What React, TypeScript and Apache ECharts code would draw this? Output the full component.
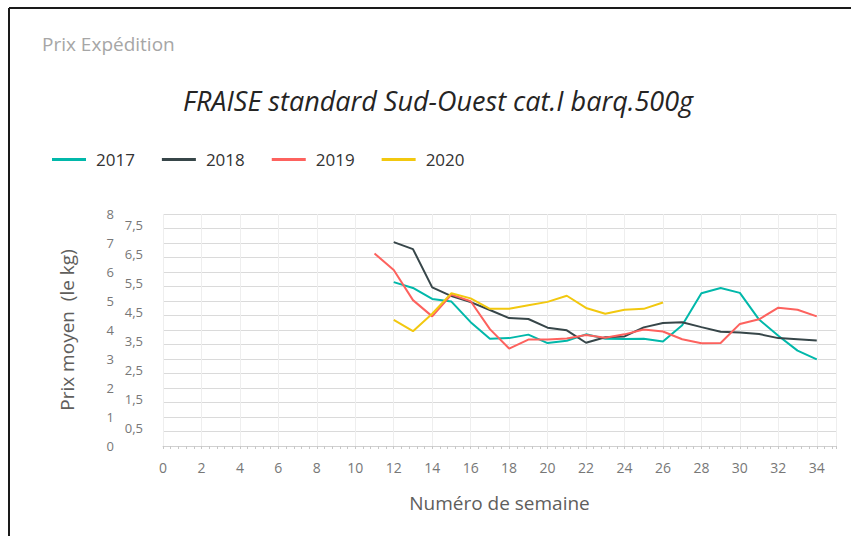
import React, { useEffect, useRef } from "react";
import * as echarts from "echarts";

const weeks = [11, 12, 13, 14, 15, 16, 17, 18, 19, 20, 21, 22, 23, 24, 25, 26, 27, 28, 29, 30, 31, 32, 33, 34];
const s2017 = [null, 5.65, 5.45, 5.07, 4.98, 4.27, 3.7, 3.72, 3.84, 3.55, 3.63, 3.85, 3.7, 3.69, 3.7, 3.6, 4.16, 5.27, 5.45, 5.28, 4.36, 3.8, 3.29, 2.99];
const s2018 = [null, 7.03, 6.79, 5.47, 5.17, 4.96, 4.69, 4.41, 4.38, 4.08, 3.99, 3.56, 3.75, 3.78, 4.09, 4.24, 4.27, 4.1, 3.94, 3.91, 3.86, 3.72, 3.68, 3.64];
const s2019 = [6.64, 6.07, 5.03, 4.47, 5.22, 4.99, 4.03, 3.36, 3.67, 3.67, 3.71, 3.83, 3.73, 3.85, 4.02, 3.95, 3.68, 3.54, 3.55, 4.21, 4.37, 4.77, 4.7, 4.47];
const s2020 = [null, 4.35, 3.96, 4.56, 5.27, 5.09, 4.73, 4.73, 4.85, 4.97, 5.18, 4.76, 4.56, 4.7, 4.73, 4.95, null, null, null, null, null, null, null, null];
const seriesNames = ["2017", "2018", "2019", "2020"];
const seriesValues = [s2017, s2018, s2019, s2020];
const colors = ["#01B8AA", "#374649", "#FD625E", "#F2C80F"];

const FONT = "'Open Sans', 'Noto Sans', sans-serif";

export default function App() {
  const ref = useRef<HTMLDivElement>(null);
  useEffect(() => {
    document.body.style.margin = "0";
    const chart = echarts.init(ref.current!, null, { renderer: "svg" });
    chart.setOption({
      animation: false,
      backgroundColor: "#ffffff",
      color: colors,
      textStyle: { fontFamily: FONT },
      title: [
        {
          text: "Prix Expédition",
          left: 37,
          top: 29,
          textStyle: { fontFamily: FONT, fontSize: 19, fontWeight: "normal", color: "#a6a6a6" },
        },
        {
          text: "FRAISE standard Sud-Ouest cat.I barq.500g",
          left: 178,
          top: 82,
          textStyle: { fontFamily: FONT, fontSize: 27, fontStyle: "italic", fontWeight: "normal", color: "#252423" },
        },
      ],
      graphic: [
        { type: "line", shape: { x1: 9, y1: 8, x2: 851, y2: 8 }, style: { stroke: "#1a1a1a", lineWidth: 2 } },
        { type: "line", shape: { x1: 9, y1: 8, x2: 9, y2: 536 }, style: { stroke: "#1a1a1a", lineWidth: 2 } },
      ],
      legend: {
        left: 47,
        top: 146,
        icon: "rect",
        itemWidth: 34,
        itemHeight: 3,
        itemGap: 27,
        data: seriesNames,
        textStyle: { fontFamily: FONT, fontSize: 17, color: "#333333", padding: [0, 0, 0, 5] },
      },
      grid: { left: 163, right: 15, top: 214, bottom: 90, containLabel: false },
      xAxis: {
        type: "value",
        min: 0,
        max: 35,
        interval: 2,
        name: "Numéro de semaine",
        nameLocation: "middle",
        nameGap: 47,
        nameTextStyle: { fontFamily: FONT, fontSize: 19, color: "#605e5c" },
        axisLine: { show: true, lineStyle: { color: "#d0d0d0", width: 1 } },
        axisTick: { show: true, length: 3, lineStyle: { color: "#c8c8c8" } },
        minorTick: { show: true, splitNumber: 5, length: 3, lineStyle: { color: "#c8c8c8" } },
        axisLabel: {
          fontFamily: FONT,
          fontSize: 14,
          color: "#777777",
          margin: 14,
          formatter: (v: number) => (v > 34 ? "" : String(v)),
        },
        splitLine: { show: true, lineStyle: { color: "#eeeeee", width: 1 } },
      },
      yAxis: {
        type: "value",
        min: 0,
        max: 8,
        interval: 0.5,
        name: "Prix moyen  (le kg)",
        nameLocation: "middle",
        nameGap: 87,
        nameRotate: 90,
        nameTextStyle: { fontFamily: FONT, fontSize: 19, color: "#605e5c" },
        axisLine: { show: false },
        axisTick: { show: false },
        axisLabel: {
          fontFamily: FONT,
          fontSize: 13,
          color: "#777777",
          margin: 20,
          formatter: (v: number) =>
            Number.isInteger(v) ? `{i|${v}}` : `{h|${String(v).replace(".", ",")}}`,
          rich: {
            i: { fontFamily: FONT, fontSize: 13, color: "#777777", padding: [0, 29, 0, 0] },
            h: { fontFamily: FONT, fontSize: 13, color: "#777777", padding: [0, 0, 8, 0] },
          },
        },
        splitLine: { show: true, lineStyle: { color: "#dadada", width: 1 } },
      },
      series: seriesNames.map((name, si) => ({
        name,
        type: "line",
        showSymbol: false,
        symbol: "none",
        connectNulls: false,
        lineStyle: { width: 2, color: colors[si] },
        itemStyle: { color: colors[si] },
        data: weeks.map((w, i) => [w, seriesValues[si][i]]).filter((d) => d[1] !== null),
      })),
    });
    return () => chart.dispose();
  }, []);
  return <div ref={ref} style={{ width: 851, height: 536 }} />;
}
